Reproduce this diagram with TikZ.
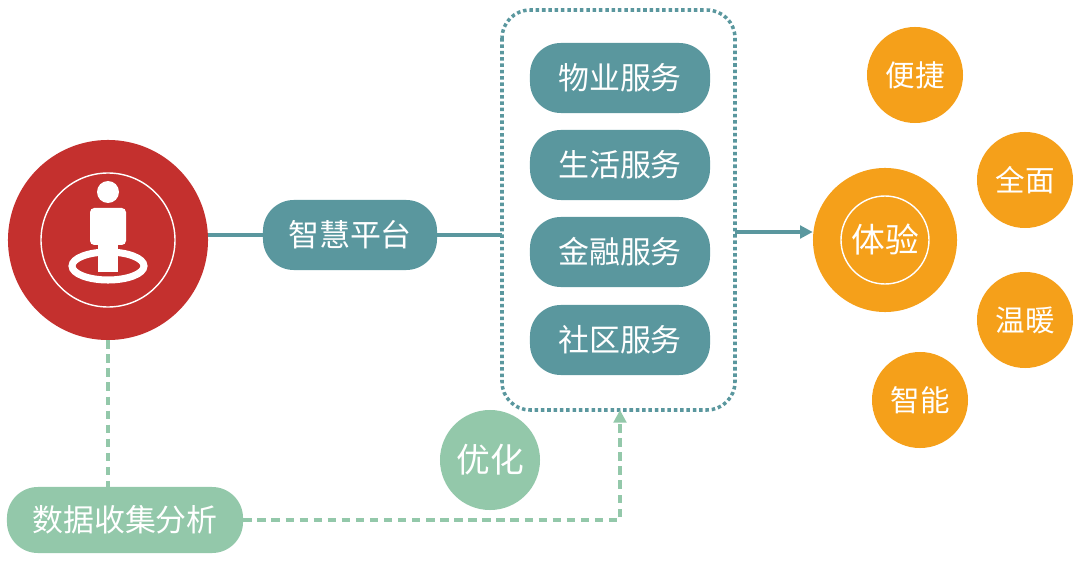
\documentclass[tikz,border=0pt]{standalone}
\usepackage{fontspec}
\setmainfont{Noto Sans CJK SC}
\usetikzlibrary{positioning,arrows.meta}
\definecolor{redc}{HTML}{C4302E}
\definecolor{tealc}{HTML}{5A979E}
\definecolor{orangec}{HTML}{F5A01A}
\definecolor{greenc}{HTML}{93C8AA}
\tikzset{
  pill/.style={rounded corners=22pt, fill=tealc, text=white, minimum height=1.75cm, minimum width=4.5cm, font=\fontsize{22}{24}\selectfont},
  ball/.style={circle, fill=orangec, text=white, minimum size=2.4cm, inner sep=0pt, font=\fontsize{21}{24}\selectfont},
  link/.style={tealc, line width=2.2pt},
  dlink/.style={greenc, line width=2.2pt, dash pattern=on 6pt off 4pt}
}
\begin{document}
\begin{tikzpicture}[x=0.025cm,y=-0.025cm]
  \useasboundingbox (0,0) rectangle (1080,564);
  % user
  \node (user) [circle, fill=redc, minimum size=5cm] at (108,240) {};
  \draw [white, line width=1pt] (108,240) circle (67);
  \fill [white] (108,192) circle (11);
  \fill [white, rounded corners=3pt] (90,208) rectangle (126,245);
  \fill [white] (98,240) rectangle (118,272);
  \draw [white, line width=5pt] (108,266) ellipse (36 and 14);
  \fill [white] (98,240) rectangle (118,268);
  % platform
  \node (plat) [pill, minimum width=4.35cm] at (350,235) {智慧平台};
  \node (wy) [pill] at (620,78) {物业服务};
  \node (sh) [pill] at (620,165) {生活服务};
  \node (jr) [pill] at (620,252) {金融服务};
  \node (sq) [pill] at (620,340) {社区服务};
  \draw [tealc, line width=2.5pt, dotted, rounded corners=20pt] (502,10) rectangle (735,410);
  \coordinate (boxl) at (502,235);
  \coordinate (boxr) at (735,232);
  \coordinate (boxb) at (620,410);
  \draw [link] (user.east |- plat) -- (plat);
  \draw [link] (plat) -- (boxl);
  % experience
  \node (ty) [circle, fill=orangec, minimum size=3.6cm, text=white, font=\fontsize{24}{26}\selectfont] at (885,240) {体验};
  \draw [white, line width=1pt] (885,240) circle (44);
  \draw [link, -{Triangle[length=9pt,width=9pt]}] (boxr) -- (ty.west |- boxr);
  \node (bj) [ball] at (915,75) {便捷};
  \node (qm) [ball] at (1025,180) {全面};
  \node (wn) [ball] at (1025,320) {温暖};
  \node (zn) [ball] at (920,400) {智能};
  % data
  \node (data) [pill, fill=greenc, minimum width=5.9cm, minimum height=1.65cm] at (125,520) {数据收集分析};
  \node (yh) [circle, fill=greenc, text=white, minimum size=2.5cm, font=\fontsize{24}{26}\selectfont] at (490,460) {优化};
  \draw [dlink] (user) -- (user |- data.north);
  \draw [dlink, -{Triangle[length=9pt,width=9pt]}] (data.east) -| (boxb);
\end{tikzpicture}
\end{document}
